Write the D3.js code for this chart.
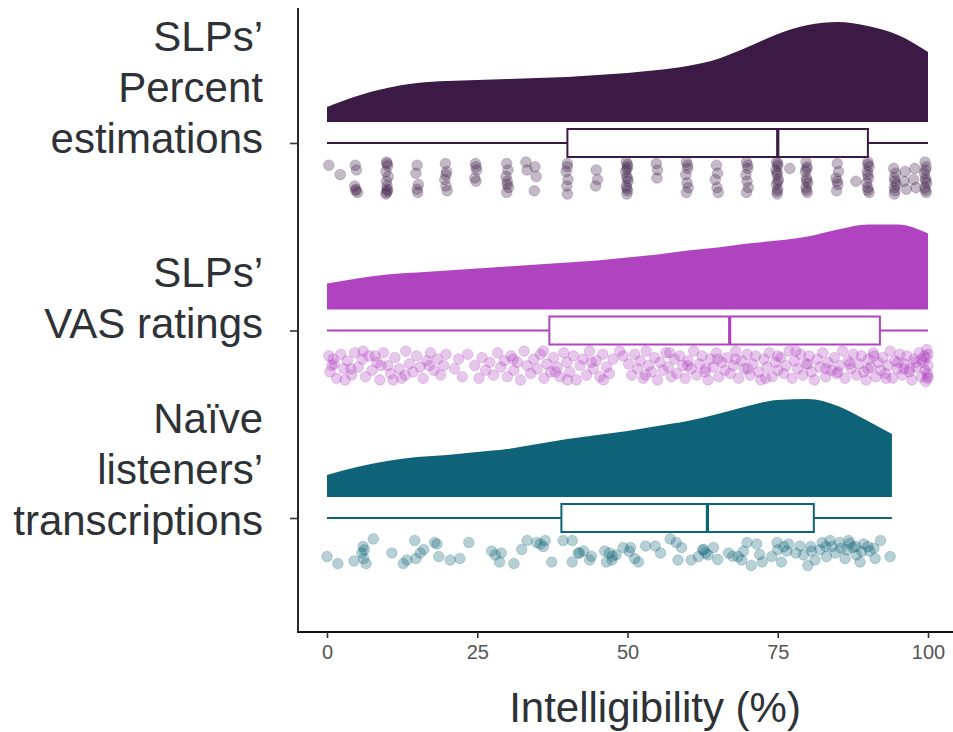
<!DOCTYPE html>
<html>
<head>
<meta charset="utf-8">
<script src="https://cdn.jsdelivr.net/npm/d3@7"></script>
<style>
  body { margin: 0; background: #fff; }
  svg { display: block; }
  .cat-label { font-family: "Liberation Sans", Arial, sans-serif; font-size: 42px; fill: #2e3236; }
  .x-axis text { font-family: "Liberation Sans", Arial, sans-serif; font-size: 20px; fill: #555; }
</style>
</head>
<body>
<svg id="chart"></svg>
<script>
// categories (top to bottom)
var categories = ["pct", "vas", "naive"];
var catLabels = [
    ["SLPs\u2019", "Percent", "estimations"],
    ["SLPs\u2019", "VAS ratings"],
    ["Na\u00efve", "listeners\u2019", "transcriptions"]
];
var colors = ["#3c1a46", "#b044c0", "#0f6378"];
var xTicks = [0, 25, 50, 75, 100];

// boxplot stats [min, q1, median, q3, max]
var boxStats = [
    [0, 40, 75, 90, 100],
    [0, 37, 67, 92, 100],
    [0, 39, 63.3, 81, 94]
];

// density (relative height) read from the half-violins
var densX12 = [0, 5, 10, 15, 20, 25, 30, 35, 40, 45, 50, 55, 60, 65, 70, 75, 80, 85, 90, 95, 100];
var densPct = [.15, .26, .34, .39, .41, .42, .43, .44, .45, .47, .49, .52, .56, .63, .75, .88, .97, 1.0, .96, .87, .70];
var densVas = [.26, .31, .35, .37, .39, .41, .43, .45, .47, .49, .52, .55, .59, .62, .66, .69, .73, .80, .85, .85, .76];
var densX3 = [0, 5, 10, 15, 20, 25, 30, 35, 40, 45, 50, 55, 60, 65, 70, 75, 80, 85, 90, 94];
var densNaive = [.22, .30, .36, .40, .42, .45, .48, .53, .58, .62, .66, .71, .76, .83, .91, .97, .98, .91, .76, .63];

// raw points: [value, vertical position in strip 0..1]
var ptsPct = [
    [0.3,.1],[2.2,.39],
    [4.7,.1],[4.9,.25],[4.6,.75],[4.8,.85],[5.1,.95],[4.8,.9],
    [9.9,0],[10.1,.12],[9.8,.3],[10.2,.45],[9.9,.6],[10,.75],[10.1,.9],[9.8,1],[10,.05],[10,.85],[9.9,.95],
    [15,.1],[14.8,.35],[15.2,.7],[15,.85],[15.1,.95],
    [19.7,.05],[19.9,.3],[19.6,.55],[19.8,.75],[20,.9],[19.8,.4],
    [24.7,.05],[24.9,.25],[24.6,.5],[24.8,.6],[24.8,.15],
    [29.9,.05],[30.1,.25],[29.8,.45],[30,.6],[30.2,.8],[29.9,.95],[30,.7],
    [33.1,0],[33.3,.25],[34.6,.15],[34.8,.45],[34.5,.9],
    [40,.05],[39.8,.3],[40.1,.55],[39.9,.75],[40,1],[40,.15],
    [44.8,.25],[45,.55],[44.7,.75],
    [49.8,0],[50,.15],[49.7,.3],[49.9,.45],[50.1,.6],[49.8,.75],[50,.9],[49.9,1],[50,.08],[49.9,.22],[50,.52],[49.9,.82],
    [54.8,.05],[55,.25],[54.9,.5],
    [59.8,0],[60,.2],[59.7,.4],[59.9,.65],[60.1,.8],[59.8,.95],[60,.1],
    [64.8,.1],[65,.35],[64.6,.55],[64.9,.8],[65.1,.95],
    [69.8,0],[70,.2],[69.7,.4],[69.9,.6],[70.1,.8],[69.8,.95],[70,.1],
    [74.8,0],[75,.12],[74.7,.25],[74.9,.4],[75.1,.55],[74.8,.7],[75,.85],[74.9,1],[75,.05],[74.9,.33],[75,.62],[74.9,.92],
    [77,.2],
    [79.7,0],[79.9,.15],[79.6,.3],[79.8,.5],[80,.65],[79.7,.8],[79.9,.95],[79.8,.22],[79.8,.58],[79.8,.88],
    [84.9,.05],[85.1,.3],[84.7,.5],[85,.7],[84.8,.9],[84.9,.6],
    [88,.6],
    [90,0],[90.2,.15],[89.9,.3],[90.1,.5],[89.8,.65],[90,.8],[90.2,.95],[90,.08],[90,.4],[90,.88],
    [94.3,.2],[94.6,.35],[94.4,.5],[94.7,.7],[94.5,.9],[94.4,1],[94.5,.6],[94.4,.8],
    [96.2,.3],[96,.6],[96.4,.85],
    [97.8,.2],[97.6,.55],[98,.8],
    [99.5,0],[99.7,.15],[99.4,.35],[99.6,.5],[99.8,.65],[99.5,.8],[99.7,.95],[99.6,.25],[99.6,.58],[99.6,.88]
];

var ptsVas = [
    [0.3,.2],[0.5,.7],[1.2,.45],[1.6,.9],[2.3,.15],[2.8,.6],[3.4,.35],[4.1,.8],[4.6,.1],[5.2,.55],
    [5.9,.3],[6.4,.85],[7,.2],[7.5,.65],[8.3,.4],[8.8,.95],[9.4,.1],[10.1,.5],[10.6,.75],[11.3,.25],
    [12,.6],[12.4,.9],[13.1,.05],[13.7,.45],[14.3,.7],[14.9,.2],[15.5,.55],[16,.9],[16.6,.35],[17.2,.1],
    [17.8,.65],[18.4,.3],[18.9,.8],[19.4,.5],[19.8,.15],[0.8,.5],[3,.95],[6,.05],[9,.5],[11,.95],
    [21.2,.6],[21.9,.3],[22.5,.85],[23.4,.15],[24.6,.5],[25.3,.9],[25.8,.25],[26.4,.65],[27.1,.4],[27.7,.8],
    [28.4,.1],[28.9,.55],[29.5,.35],[30,.85],[30.6,.2],[31.1,.65],[31.7,.4],[32.2,.95],[32.8,.05],[33.3,.5],
    [33.9,.75],[34.4,.3],[35,.6],[35.5,.15],[36.1,.9],[36.6,.45],[37.2,.7],[37.7,.25],[38.3,.55],[38.8,.85],
    [39.4,.1],[39.9,.4],[40.4,.7],[41,.2],[41.5,.95],[42.1,.5],[42.6,.3],[43.2,.8],[43.7,.05],[44.3,.6],
    [44.8,.35],[45.4,.85],[45.9,.15],[46.5,.55],[47,.75],[47.6,.3],[36,.05],[40,.95],[44,.4],
    [48.7,.05],[49.3,.2],
    [50.2,.45],[50.7,.8],[51.2,.15],[51.7,.6],[52.1,.35],[52.6,.9],[53.1,.05],[53.5,.5],[54,.7],[54.5,.25],
    [55,.95],[55.4,.4],[55.9,.65],[56.4,.1],[56.8,.55],[57.3,.85],[57.8,.3],[58.2,.75],[58.7,.2],[59.2,.5],
    [59.6,.9],[60.1,.35],[60.6,.6],[61,.05],[61.5,.8],[62,.45],[62.4,.2],[62.9,.7],[63.4,.95],[63.8,.3],
    [64.3,.55],[64.8,.1],[65.2,.85],[65.7,.4],[66.2,.65],[66.6,.25],[67.1,.75],[67.6,.5],[68,.05],[68.5,.9],
    [69,.35],[69.4,.6],[69.9,.15],[70.4,.8],[70.8,.45],[71.3,.2],[71.8,.7],[72.2,.95],[72.7,.3],[73.2,.55],
    [73.6,.1],[74.1,.85],[74.6,.4],[75,.65],[75.5,.25],[76,.75],[76.4,.5],[76.9,.05],[77.4,.9],[77.8,.35],
    [78.3,.6],[78.8,.15],[79.2,.8],[79.7,.45],[80.2,.2],[80.6,.7],[81.1,.95],[81.6,.3],[82,.55],[82.5,.1],
    [83,.85],[83.4,.4],[83.9,.65],[84.4,.25],[84.8,.75],[85.3,.5],[85.8,.05],[86.2,.9],[86.7,.35],[87.2,.6],
    [87.6,.15],[88.1,.8],[88.5,.45],[88.9,.2],[89.3,.7],[89.7,.95],[90.1,.3],[90.5,.55],[90.9,.1],[91.3,.85],
    [91.7,.4],[92.1,.65],[92.5,.25],[92.9,.75],[93.3,.5],[93.7,.05],[94.1,.9],[94.5,.35],[94.9,.6],[95.3,.15],
    [95.7,.8],[96.1,.45],[96.5,.2],[96.9,.7],[97.3,.95],[97.7,.3],[98.1,.55],[98.5,.1],[98.9,.85],[99.2,.4],
    [99.5,.65],[99.7,.25],[99.9,.75],[100,.5],[99.8,0],[99.6,1],[99.9,.9],[99.4,.2],
    [60,.5],[65,.3],[70,.6],[75,.2],[80,.45],[85,.7],[90,.6],[95,.4],[97,.6],[99,.3],
    [1,.3],[4,.6],[8,.2],[13,.8],[17,.5],[31,.3],[38,.7],[46,.95],[53,.8],[57,.1],
    [63,.6],[68,.3],[73,.9],[78,.05],[83,.6],[87,.45],[91,.2],[93,.9],[96,.6],[98,.4],[100,.15],[100,.85]
];

var ptsNaive = [
    [0,.61],[1.8,.83],[5.8,.5],[6.1,.67],[6.5,.83],[7.7,.06],[6,.3],[10.8,.5],[12.7,.83],[13.3,.72],
    [14.6,.11],[14.8,.67],[16.1,.39],[17.9,.17],[18.3,.22],[18.6,.61],[20.5,.72],[22.1,.67],[23.6,.17],[27.4,.44],
    [28,.56],[28.7,.78],[31.1,.83],[32.4,.39],[33.3,.11],[34.9,.17],[35.5,.22],[36.3,.11],[37.4,.78],[39.3,.11],
    [40.8,.11],[40.8,.78],[41.8,.5],[42.7,.44],[43.7,.72],[46.2,.44],[46.5,.78],[47.4,.72],[48.1,.56],[49.3,.33],
    [50.5,.33],[51.2,.67],[51.8,.78],[53,.28],[54.6,.28],[57.1,.06],[58.1,.17],[58.4,.72],[59,.33],[60.6,.72],
    [61.8,.61],[62.7,.39],[63.4,.56],[64.3,.33],[66.8,.5],[68.4,.61],[69,.72],[69.3,.44],[69.9,.17],[70.6,.89],
    [71.5,.22],[72.4,.78],[74,.61],[74.9,.17],[75.6,.78],[76.5,.44],[76.8,.22],[78.7,.28],[79.3,.56],[80,.89],
    [80.6,.44],[81.2,.72],[82.4,.17],[83.1,.61],[83.7,.11],[84.6,.5],[85.3,.17],[86.2,.67],[86.8,.11],[87.5,.33],
    [88.1,.56],[88.7,.78],[89.3,.22],[90.3,.44],[91.2,.67],[92.1,.11],[93.7,.61],
    [42,.5],[47,.5],[47.5,.6],[50.3,.45],[62.5,.4],[63,.5],[67.5,.6],[75,.4],[76,.3],[80.5,.3],
    [82,.4],[84,.3],[85.5,.35],[86.5,.4],[87,.2],[88,.3],[89,.45],[90,.3],[4.5,.75],[6.2,.4],
    [15.5,.5],[29,.5],[36,.3],[44,.6],[55.5,.5],[65,.7],[72,.55],[78,.5],[83,.3],[91,.35]
];

var densities = [
    { xs: densX12, ys: densPct },
    { xs: densX12, ys: densVas },
    { xs: densX3, ys: densNaive }
];
var points = [ptsPct, ptsVas, ptsNaive];

var width = 953, height = 732;

var svg = d3.select("#chart")
    .attr("width", width)
    .attr("height", height);

var xScale = d3.scaleLinear().domain([0, 100]).range([327, 928]);
var yScale = d3.scalePoint().domain(categories).range([143, 518]);
var hScale = d3.scaleLinear().domain([0, 1]).range([0, 100]);
var jScale = d3.scaleLinear().domain([0, 1]).range([19, 51]);

var axisY = 632, axisX = 298;

// half violins
categories.forEach(function(c, i) {
    var base = yScale(c) - 21;
    var dd = densities[i].xs.map(function(x, k) { return [x, densities[i].ys[k]]; });
    var area = d3.area()
        .x(function(d) { return xScale(d[0]); })
        .y0(base)
        .y1(function(d) { return base - hScale(d[1]); })
        .curve(d3.curveMonotoneX);
    svg.append("path")
        .datum(dd)
        .attr("d", area)
        .attr("fill", colors[i]);
});

// boxplots
categories.forEach(function(c, i) {
    var y = yScale(c), s = boxStats[i], g = svg.append("g")
        .attr("stroke", colors[i]);
    g.append("line")
        .attr("x1", xScale(s[0])).attr("x2", xScale(s[1]))
        .attr("y1", y).attr("y2", y)
        .attr("stroke-width", 2);
    g.append("line")
        .attr("x1", xScale(s[3])).attr("x2", xScale(s[4]))
        .attr("y1", y).attr("y2", y)
        .attr("stroke-width", 2);
    g.append("rect")
        .attr("x", xScale(s[1])).attr("width", xScale(s[3]) - xScale(s[1]))
        .attr("y", y - 14).attr("height", 28)
        .attr("fill", "#fff")
        .attr("stroke-width", 2);
    g.append("line")
        .attr("x1", xScale(s[2])).attr("x2", xScale(s[2]))
        .attr("y1", y - 14).attr("y2", y + 14)
        .attr("stroke-width", 3.2);
});

// jittered points
categories.forEach(function(c, i) {
    var y = yScale(c);
    svg.append("g")
        .selectAll("circle")
        .data(points[i])
        .enter()
        .append("circle")
        .attr("cx", function(d) { return xScale(d[0]); })
        .attr("cy", function(d) { return y + jScale(d[1]); })
        .attr("r", 5.3)
        .attr("fill", colors[i])
        .attr("fill-opacity", 0.3)
        .attr("stroke", colors[i])
        .attr("stroke-opacity", 0.22)
        .attr("stroke-width", 1);
});

// axes lines
svg.append("line")
    .attr("x1", axisX).attr("x2", axisX)
    .attr("y1", 8).attr("y2", axisY + 0.8)
    .attr("stroke", "#111").attr("stroke-width", 1.8);
svg.append("line")
    .attr("x1", axisX - 0.9).attr("x2", width)
    .attr("y1", axisY).attr("y2", axisY)
    .attr("stroke", "#111").attr("stroke-width", 1.8);

var xAxis = svg.append("g")
    .attr("class", "x-axis")
    .attr("transform", "translate(0," + axisY + ")")
    .call(d3.axisBottom(xScale).tickValues(xTicks).tickSize(6).tickPadding(7));
xAxis.select(".domain").remove();
xAxis.selectAll("line").attr("stroke", "#333").attr("stroke-width", 1.6);

var yAxis = svg.append("g")
    .attr("transform", "translate(" + axisX + ",0)")
    .call(d3.axisLeft(yScale).tickSize(8).tickFormat(""));
yAxis.select(".domain").remove();
yAxis.selectAll("line").attr("stroke", "#333").attr("stroke-width", 1.6);

// category labels (last line baseline offset from tick)
var lastLineOffset = [10, 7, 17];
categories.forEach(function(c, i) {
    var lines = catLabels[i];
    var last = yScale(c) + lastLineOffset[i];
    lines.forEach(function(t, k) {
        svg.append("text")
            .attr("class", "cat-label")
            .attr("x", 263)
            .attr("y", last - (lines.length - 1 - k) * 51)
            .attr("text-anchor", "end")
            .text(t);
    });
});

// x title
svg.append("text")
    .attr("class", "cat-label")
    .attr("x", 655)
    .attr("y", 722)
    .attr("text-anchor", "middle")
    .text("Intelligibility (%)");
</script>
</body>
</html>
